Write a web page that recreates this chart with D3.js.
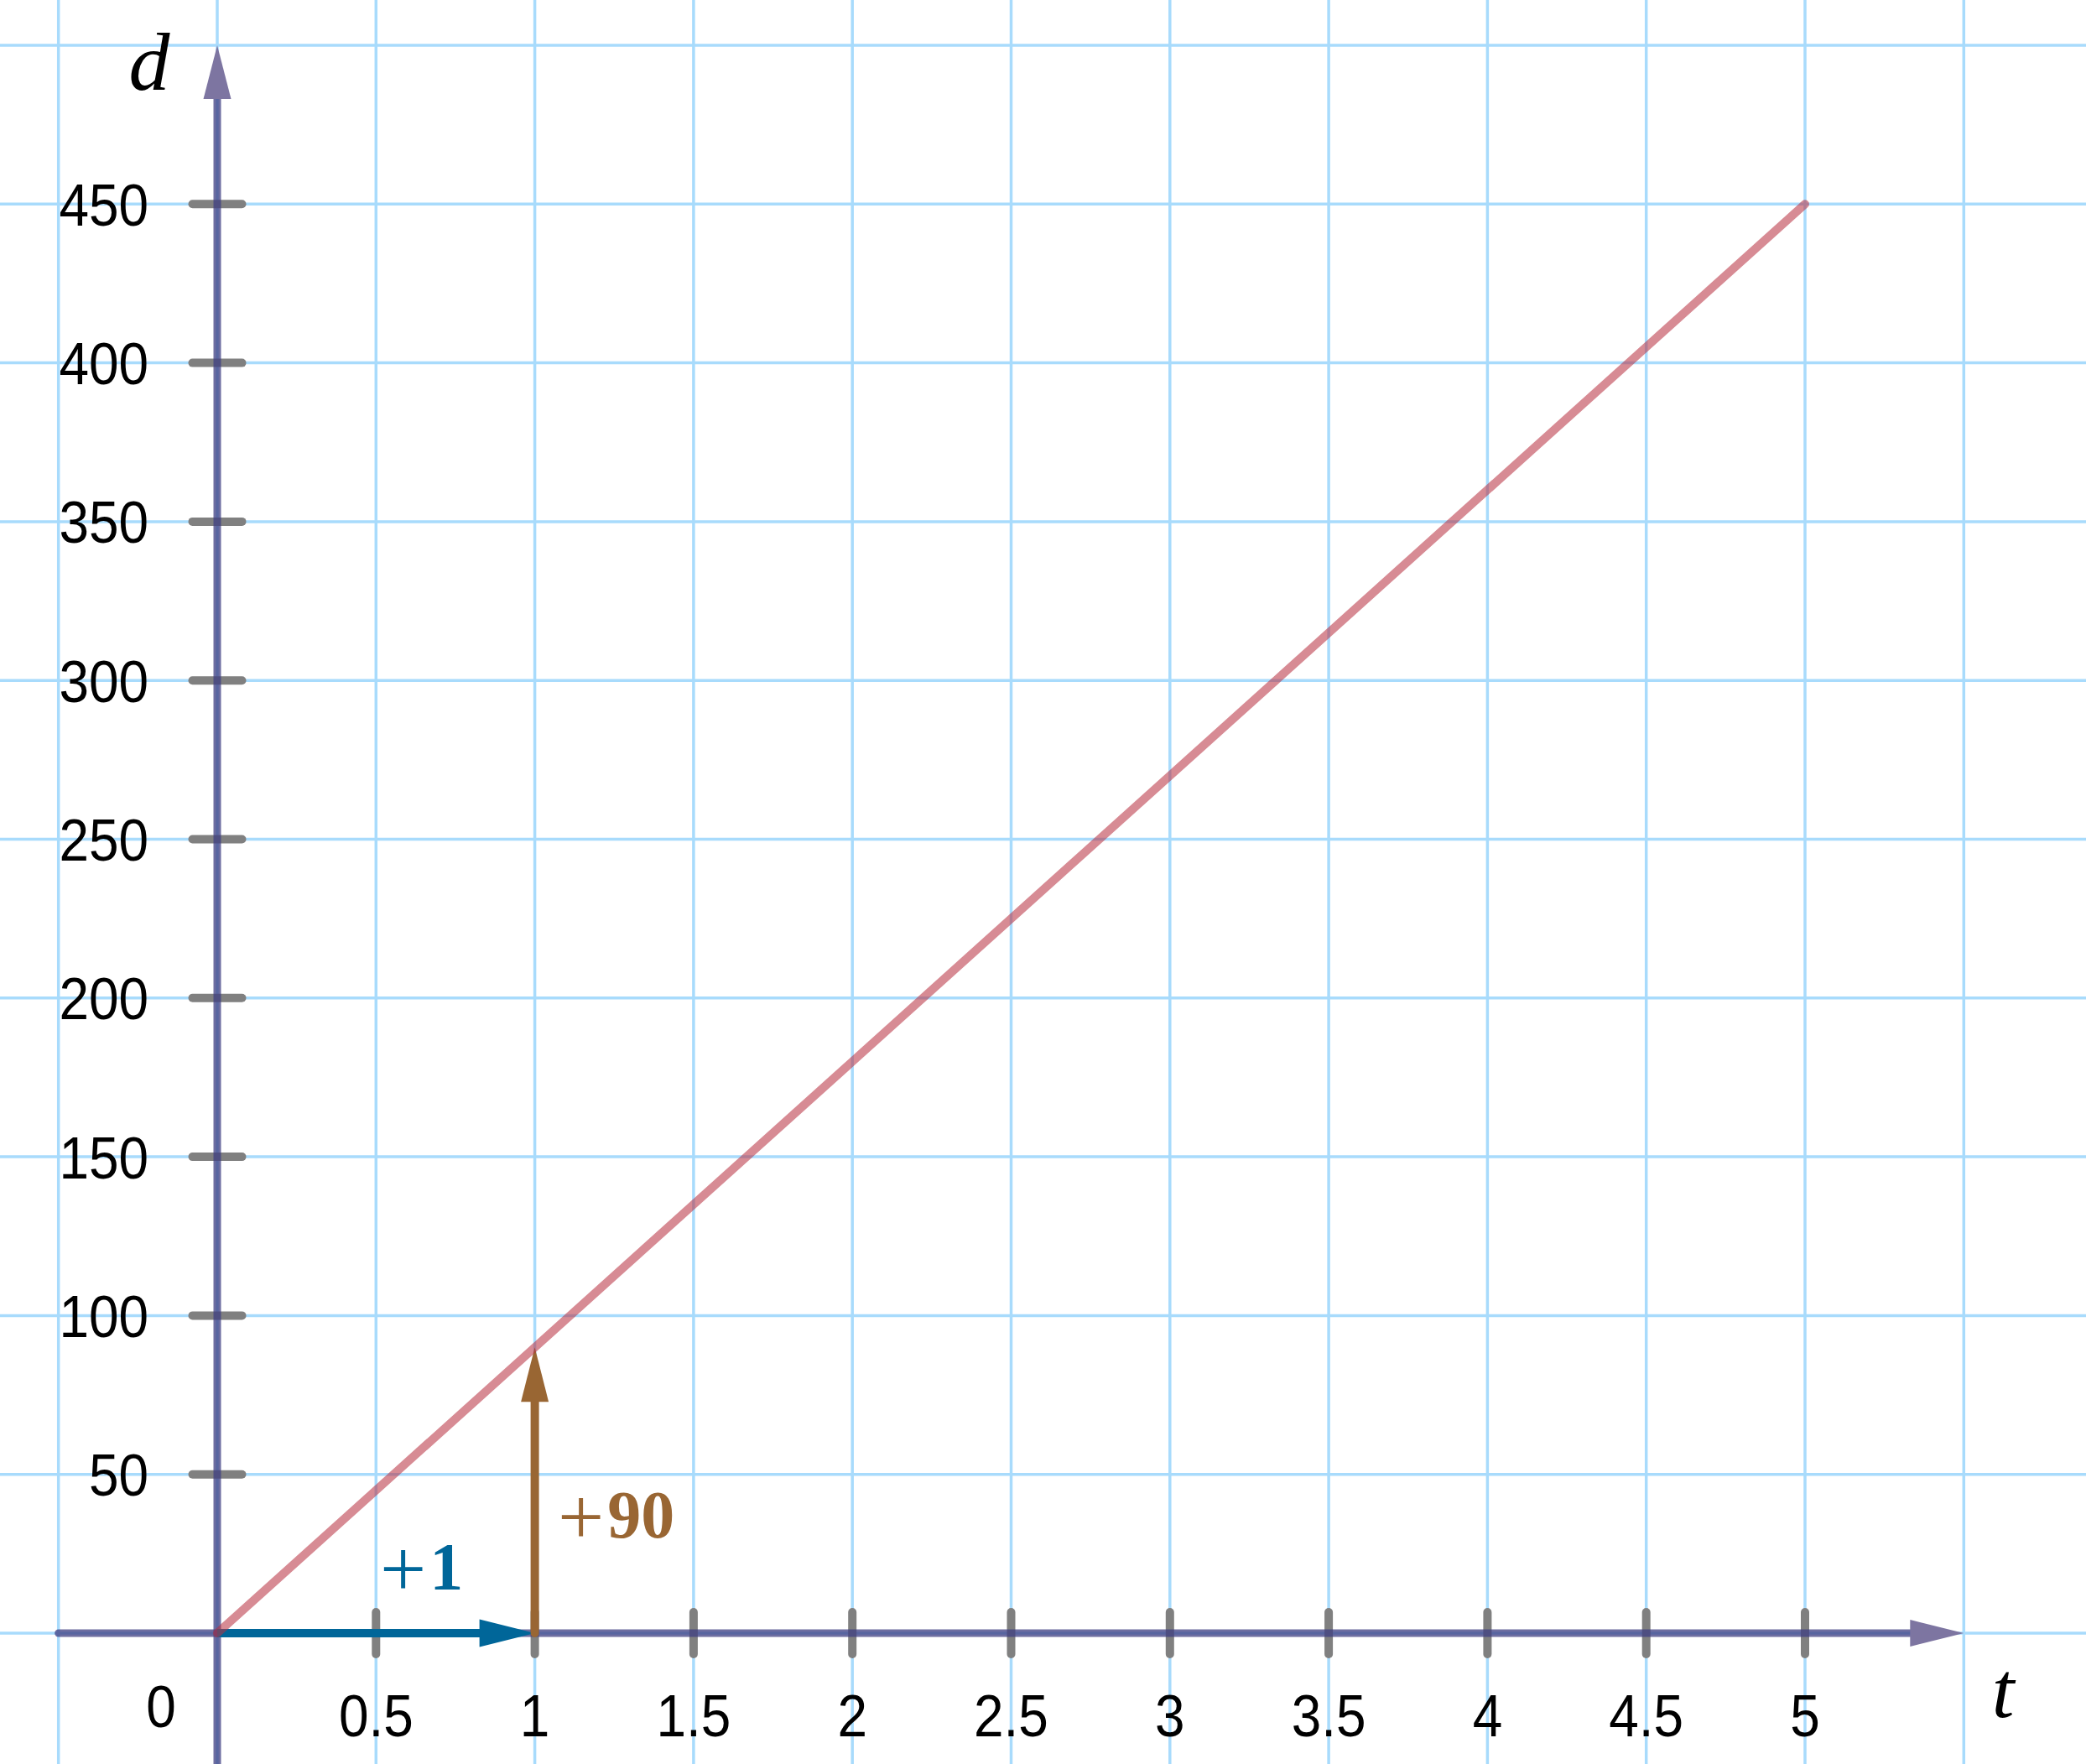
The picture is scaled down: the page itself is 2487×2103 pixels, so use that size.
<!DOCTYPE html>
<html><head><meta charset="utf-8">
<script src="https://cdn.jsdelivr.net/npm/d3@7"></script>
<style>html,body{margin:0;padding:0;background:#fff;}svg{display:block;}</style>
</head><body>
<script>
// Data
const xTickValues = [0.5, 1, 1.5, 2, 2.5, 3, 3.5, 4, 4.5, 5];
const xTickLabels = ["0.5", "1", "1.5", "2", "2.5", "3", "3.5", "4", "4.5", "5"];
const yTickValues = [50, 100, 150, 200, 250, 300, 350, 400, 450];
const yTickLabels = ["50", "100", "150", "200", "250", "300", "350", "400", "450"];
const xGrid = [-0.5, 0, 0.5, 1, 1.5, 2, 2.5, 3, 3.5, 4, 4.5, 5, 5.5];
const yGrid = [-50, 0, 50, 100, 150, 200, 250, 300, 350, 400, 450, 500];
const lineT = [0, 5];
const lineD = [0, 450];
const runArrow = {t0: 0, t1: 1, d: 0, sign: "+", num: "1"};
const riseArrow = {t: 1, d0: 0, d1: 90, sign: "+", num: "90"};
const xAxisLabel = "t", yAxisLabel = "d", originLabel = "0";

const W = 2487, H = 2103;
const x = d3.scaleLinear().domain([0, 5]).range([259, 2152]);
const y = d3.scaleLinear().domain([0, 450]).range([1947, 243.3]);

const svg = d3.select("body").append("svg").attr("width", W).attr("height", H);
svg.append("rect").attr("width", W).attr("height", H).attr("fill", "#fff");

// Grid
const grid = svg.append("g").attr("stroke", "#a8dbfc").attr("stroke-width", 3.5);
grid.selectAll("line.v").data(xGrid).join("line").attr("class", "v")
  .attr("x1", d => x(d)).attr("x2", d => x(d)).attr("y1", 0).attr("y2", H);
grid.selectAll("line.h").data(yGrid).join("line").attr("class", "h")
  .attr("y1", d => y(d)).attr("y2", d => y(d)).attr("x1", 0).attr("x2", W);

// Ticks
const tk = svg.append("g").attr("stroke", "#808080").attr("stroke-width", 10).attr("stroke-linecap", "round");
tk.selectAll("line.xt").data(xTickValues).join("line").attr("class", "xt")
  .attr("x1", d => x(d)).attr("x2", d => x(d)).attr("y1", y(0) - 25).attr("y2", y(0) + 25);
tk.selectAll("line.yt").data(yTickValues).join("line").attr("class", "yt")
  .attr("y1", d => y(d)).attr("y2", d => y(d)).attr("x1", x(0) - 29.5).attr("x2", x(0) + 29.5);

// Axes
const axisCol = "#3e3e82";
const ax = svg.append("g");
ax.append("line").attr("x1", x(-0.5)).attr("x2", x(5.5) - 60).attr("y1", y(0)).attr("y2", y(0))
  .attr("stroke", axisCol).attr("stroke-opacity", 0.75).attr("stroke-width", 9).attr("stroke-linecap", "round");
ax.append("path")
  .attr("d", `M${x(5.5)},${y(0)} L${x(5.5) - 64},${y(0) - 16} L${x(5.5) - 64},${y(0) + 16} Z`)
  .attr("fill", "#7d75a1");
ax.append("line").attr("x1", x(0)).attr("x2", x(0)).attr("y1", H + 10).attr("y2", y(500) + 60)
  .attr("stroke", axisCol).attr("stroke-opacity", 0.75).attr("stroke-width", 9);
ax.append("path")
  .attr("d", `M${x(0)},${y(500)} L${x(0) - 16.5},${y(500) + 64} L${x(0) + 16.5},${y(500) + 64} Z`)
  .attr("fill", "#7d75a1");

// Run arrow (blue)
const blue = "#006699";
svg.append("line").attr("x1", x(runArrow.t0)).attr("x2", x(runArrow.t1) - 60)
  .attr("y1", y(runArrow.d)).attr("y2", y(runArrow.d))
  .attr("stroke", blue).attr("stroke-width", 10);
svg.append("path")
  .attr("d", `M${x(runArrow.t1)},${y(runArrow.d)} L${x(runArrow.t1) - 66},${y(runArrow.d) - 16.5} L${x(runArrow.t1) - 66},${y(runArrow.d) + 16.5} Z`)
  .attr("fill", blue);

// Rise arrow (brown)
const brown = "#996633";
svg.append("line").attr("x1", x(riseArrow.t)).attr("x2", x(riseArrow.t))
  .attr("y1", y(riseArrow.d0)).attr("y2", y(riseArrow.d1) + 60)
  .attr("stroke", brown).attr("stroke-width", 10).attr("stroke-linecap", "round");
svg.append("path")
  .attr("d", `M${x(riseArrow.t)},${y(riseArrow.d1)} L${x(riseArrow.t) - 16.5},${y(riseArrow.d1) + 65} L${x(riseArrow.t) + 16.5},${y(riseArrow.d1) + 65} Z`)
  .attr("fill", brown);

// Red line
const lineData = lineT.map((t, i) => ({t, d: lineD[i]}));
svg.append("path").datum(lineData)
  .attr("d", d3.line().x(d => x(d.t)).y(d => y(d.d)))
  .attr("fill", "none").attr("stroke", "#b83040").attr("stroke-opacity", 0.56)
  .attr("stroke-width", 10).attr("stroke-linecap", "round");

// Labels
const sans = "'Liberation Sans', Arimo, 'DejaVu Sans', sans-serif";
const serif = "'Liberation Serif', 'DejaVu Serif', serif";
function condense(sel, f) {
  sel.each(function() {
    const L = this.getComputedTextLength();
    d3.select(this).attr("textLength", L * f).attr("lengthAdjust", "spacingAndGlyphs");
  });
}
const yl = svg.append("g").selectAll("text").data(yTickValues).join("text")
  .attr("x", 177).attr("y", d => y(d)).attr("dy", "0.36em")
  .attr("text-anchor", "end").attr("font-family", sans).attr("font-size", 71).attr("fill", "#000")
  .text((d, i) => yTickLabels[i]);
condense(yl, 0.9);
const xl = svg.append("g").selectAll("text").data(xTickValues).join("text")
  .attr("x", d => x(d)).attr("y", 2070)
  .attr("text-anchor", "middle").attr("font-family", sans).attr("font-size", 71).attr("fill", "#000")
  .text((d, i) => xTickLabels[i]);
condense(xl, 0.9);
const ol = svg.append("text").attr("x", 192).attr("y", 2059).attr("text-anchor", "middle")
  .attr("font-family", sans).attr("font-size", 71).attr("fill", "#000").text(originLabel);
condense(ol, 0.9);

svg.append("text").attr("x", 2388).attr("y", 2047).attr("text-anchor", "middle")
  .attr("font-family", serif).attr("font-style", "italic").attr("font-size", 96).attr("fill", "#000").text(xAxisLabel);
svg.append("text").attr("x", 178).attr("y", 107).attr("text-anchor", "middle")
  .attr("font-family", serif).attr("font-style", "italic").attr("font-size", 98).attr("fill", "#000").text(yAxisLabel);

function signedLabel(px, py, a, color) {
  const t = svg.append("text").attr("x", px).attr("y", py).attr("font-family", serif).attr("fill", color);
  t.append("tspan").attr("font-size", 98).attr("font-weight", "normal").attr("dy", 8).text(a.sign);
  t.append("tspan").attr("font-size", 80).attr("font-weight", "bold").attr("dx", 4).attr("dy", -8).text(a.num);
}
signedLabel(453, 1895, runArrow, blue);
signedLabel(665, 1833, riseArrow, brown);
</script>
</body></html>
